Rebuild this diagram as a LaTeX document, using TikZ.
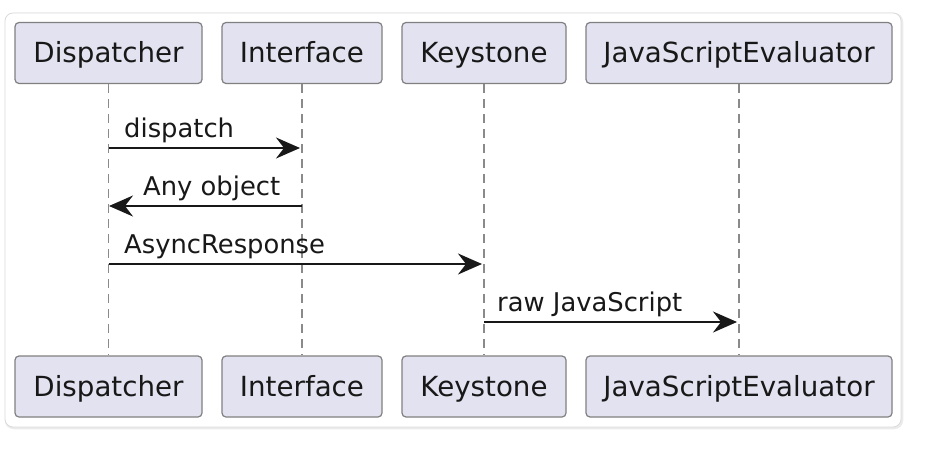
\documentclass[tikz,border=0pt]{standalone}
\usepackage{fontspec}
\setmainfont{DejaVu Sans}
\usetikzlibrary{arrows.meta}
\definecolor{boxfill}{HTML}{E2E2F0}
\definecolor{boxdraw}{HTML}{808080}
\definecolor{ink}{HTML}{181818}
\definecolor{lifecol}{HTML}{8A8A8A}
\begin{document}
\begin{tikzpicture}[x=1pt,y=-1pt,
  partbox/.style={draw=boxdraw, fill=boxfill, line width=1.2pt, rounded corners=4pt,
    minimum height=61pt, inner sep=0pt, text height=20pt, text depth=0pt,
    font=\fontsize{27.7}{30}\selectfont, text=ink},
  lifeline/.style={draw=lifecol, line width=1.1pt, dash pattern=on 9pt off 6pt},
  msg/.style={draw=ink, line width=1.6pt, -{Stealth[length=24pt,width=21pt,inset=8pt]}},
  msglabel/.style={anchor=base west, inner sep=0pt, font=\fontsize{25.8}{28}\selectfont, text=ink}]
\useasboundingbox (0,0) rectangle (926,452);
% card
\draw[draw=black!8, line width=2.5pt, rounded corners=8pt] (6,14) rectangle (902,428);
\draw[draw=black!14, fill=white, line width=0.8pt, rounded corners=8pt] (5,13) rectangle (901,427);
% participants
\node[partbox, minimum width=187pt] (dT) at (108.5,53) {Dispatcher};
\node[partbox, minimum width=160pt] (iT) at (302,53) {Interface};
\node[partbox, minimum width=164pt] (kT) at (484,53) {Keystone};
\node[partbox, minimum width=306pt] (jT) at (739,53) {JavaScriptEvaluator};
\node[partbox, minimum width=187pt] (dB) at (108.5,386.5) {Dispatcher};
\node[partbox, minimum width=160pt] (iB) at (302,386.5) {Interface};
\node[partbox, minimum width=164pt] (kB) at (484,386.5) {Keystone};
\node[partbox, minimum width=306pt] (jB) at (739,386.5) {JavaScriptEvaluator};
% lifelines
\draw[lifeline] (dT.south) -- (dB.north);
\draw[lifeline] (iT.south) -- (iB.north);
\draw[lifeline] (kT.south) -- (kB.north);
\draw[lifeline] (jT.south) -- (jB.north);
% message anchor points
\coordinate (d1) at (dT.south |- 0,148);
\coordinate (i1) at (iT.south |- 0,148);
\coordinate (d2) at (dT.south |- 0,206);
\coordinate (i2) at (iT.south |- 0,206);
\coordinate (d3) at (dT.south |- 0,264);
\coordinate (k3) at (kT.south |- 0,264);
\coordinate (k4) at (kT.south |- 0,322);
\coordinate (j4) at (jT.south |- 0,322);
% messages
\draw[msg, shorten >=2pt] (d1) -- (i1);
\node[msglabel] (l1) at (124,137) {dispatch};
\draw[msg, shorten >=0.5pt] (i2) -- (d2);
\node[msglabel] (l2) at (143,195) {Any object};
\draw[msg, shorten >=2pt] (d3) -- (k3);
\node[msglabel] (l3) at (124,253) {AsyncResponse};
\draw[msg, shorten >=2pt] (k4) -- (j4);
\node[msglabel] (l4) at (497,311) {raw JavaScript};
\end{tikzpicture}
\end{document}
